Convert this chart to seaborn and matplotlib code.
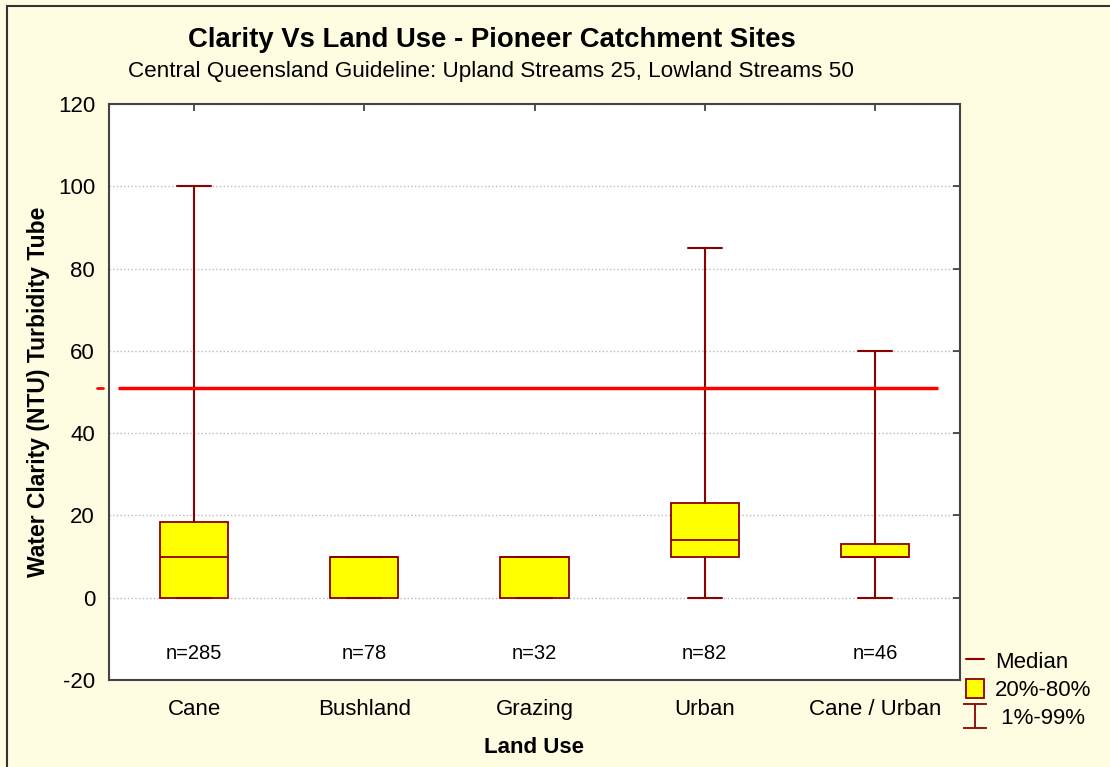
import numpy as np
import matplotlib
matplotlib.use("Agg")
import matplotlib.pyplot as plt
import seaborn as sns
from matplotlib.lines import Line2D
from matplotlib.patches import Patch, Rectangle
from matplotlib.path import Path

# data
land_use = ["Cane", "Bushland", "Grazing", "Urban", "Cane / Urban"]
p01 = [0, 0, 0, 0, 0]
p20 = [0, 0, 0, 10, 10]
median = [10, 10, 10, 14, 10]
p80 = [18.5, 10, 10, 23, 13]
p99 = [100, 10, 10, 85, 60]
n_obs = [285, 78, 32, 82, 46]
guideline = 51

sns.set_theme(style="white")
plt.rcParams["font.family"] = ["Liberation Sans", "DejaVu Sans"]
plt.rcParams["axes.unicode_minus"] = False
plt.rcParams["text.color"] = "black"
plt.rcParams["axes.labelcolor"] = "black"

BG = "#FFFDE1"
DARKRED = "#8B0000"

fig = plt.figure(figsize=(11.1, 7.67), dpi=100, facecolor=BG)
ax = fig.add_axes([109 / 1110, 1 - 680 / 767, 851 / 1110, 576 / 767])
ax.set_facecolor("white")

stats = [
    dict(label=lab, whislo=lo, q1=q1, med=md, q3=q3, whishi=hi, fliers=[])
    for lab, lo, q1, md, q3, hi in zip(land_use, p01, p20, median, p80, p99)
]
ax.bxp(
    stats, positions=np.arange(len(land_use)), widths=0.4, patch_artist=True,
    showfliers=False,
    boxprops=dict(facecolor="#FFFF00", edgecolor=DARKRED, linewidth=1.3),
    medianprops=dict(color=DARKRED, linewidth=1.3),
    whiskerprops=dict(color=DARKRED, linewidth=1.5),
    capprops=dict(color=DARKRED, linewidth=1.5),
    capwidths=0.2,
)

ax.hlines(guideline, -0.45, 4.37, color="#FF0000", linewidth=2.5, zorder=4)
ax.plot([-0.57, -0.535], [guideline, guideline], color="#FF0000",
        linewidth=2, clip_on=False)

for i, n in enumerate(n_obs):
    ax.text(i, -13.5, f"n={n}", ha="center", va="center", fontsize=14.5)

ax.set_xlim(-0.5, 4.5)
ax.set_ylim(-20, 120)
ax.set_yticks(np.arange(-20, 121, 20))
ax.set_xticks(np.arange(len(land_use)))
ax.set_xticklabels(land_use)
ax.grid(axis="y", color="#BBBBBB", linestyle=":", linewidth=1)
ax.tick_params(axis="both", direction="in", length=5, width=1.2,
               labelsize=16, top=True, right=True, colors="#333333",
               labelcolor="black")
ax.tick_params(axis="y", pad=10)
ax.tick_params(axis="x", pad=14)
for s in ax.spines.values():
    s.set_color("#444444")
    s.set_linewidth(1.5)

ax.set_xlabel("Land Use", fontsize=16, fontweight="bold", labelpad=12)
ax.set_ylabel("Water Clarity (NTU) Turbidity Tube", fontsize=16.5,
              fontweight="bold", labelpad=6)

fig.text(492 / 1110, 1 - 40 / 767, "Clarity Vs Land Use - Pioneer Catchment Sites",
         ha="center", va="center", fontsize=19.8, fontweight="bold")
fig.text(491 / 1110, 1 - 71 / 767,
         "Central Queensland Guideline: Upland Streams 25, Lowland Streams 50",
         ha="center", va="center", fontsize=16.2)

# I-shaped marker for the 1%-99% legend entry
ibar = Path([(-1, 1), (1, 1), (0, 1), (0, -1), (-1, -1), (1, -1)],
            [Path.MOVETO, Path.LINETO, Path.MOVETO, Path.LINETO,
             Path.MOVETO, Path.LINETO])
handles = [
    Line2D([], [], color=DARKRED, linewidth=1.5),
    Patch(facecolor="#FFFF00", edgecolor=DARKRED, linewidth=1.3),
    Line2D([], [], linestyle="none", marker=ibar, markersize=17,
           markeredgecolor=DARKRED, markerfacecolor="none", markeredgewidth=1.3),
]
fig.legend(handles, ["Median", "20%-80%", " 1%-99%"], loc="upper left",
           bbox_to_anchor=(966 / 1110, 1 - 651 / 767), frameon=False,
           fontsize=16, handlelength=0.8, handleheight=0.9, handletextpad=0.5,
           labelspacing=0.28, borderaxespad=0, borderpad=0)

fig.patches.append(Rectangle((7 / 1110, -0.05), 1.1, 1.05 - 6 / 767,
                             transform=fig.transFigure, fill=False,
                             edgecolor="#333333", linewidth=1.5))

fig.savefig("out.png", dpi=100, facecolor=BG)
